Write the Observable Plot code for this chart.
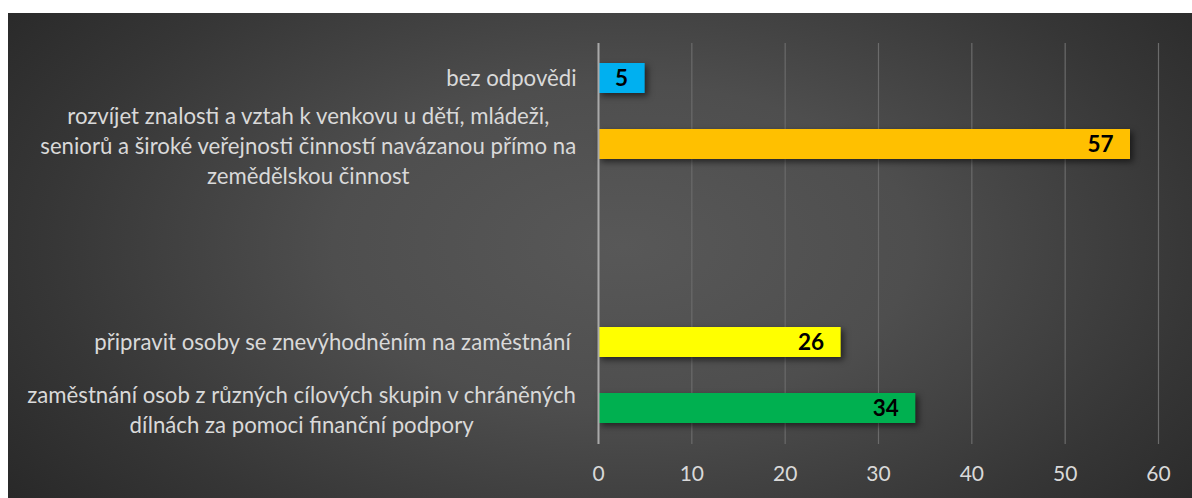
<!DOCTYPE html>
<html><head><meta charset="utf-8">
<script src="https://cdn.jsdelivr.net/npm/d3@7"></script>
<script src="https://cdn.jsdelivr.net/npm/@observablehq/plot@0.6"></script>
<style>
html,body{margin:0;padding:0;background:#fff;}
#panel{position:absolute;left:8px;top:13px;width:1184px;height:485px;
  background:radial-gradient(ellipse 70% 95% at 52% 48%, #585858 0%, #4e4e4e 35%, #363636 70%, #242424 100%);}
svg text{white-space:pre;}
</style></head><body><div id="panel"></div>
<script>
const categories = [
  "bez odpovědi",
  "rozvíjet znalosti a vztah k venkovu u dětí, mládeži,\nseniorů a široké veřejnosti činností navázanou přímo na\nzemědělskou činnost",
  " ",
  "  ",
  "připravit osoby se znevýhodněním na zaměstnání ",
  "zaměstnání osob z různých cílových skupin v chráněných\ndílnách za pomoci finanční podpory"
];
const values = [5, 57, null, null, 26, 34];
const barColors = ["#00B0F0", "#FFC000", null, null, "#FFFF00", "#00B050"];
const xTicks = [0, 10, 20, 30, 40, 50, 60];

const rows = categories.map((c, i) => ({cat: c, value: values[i], color: barColors[i]}))
  .filter(d => d.value != null);

const FONT = "Lato";
const LABEL_SIZE = 22.2;
const GAP = 22;
const ctx = document.createElement("canvas").getContext("2d");
ctx.font = `${LABEL_SIZE}px ${FONT}`;
const lineW = s => ctx.measureText(s).width;

const labelMarks = [];
const singles = categories.filter(c => c.trim() && !c.includes("\n"));
labelMarks.push(Plot.text(singles, {x: 0, y: d => d, text: d => d, textAnchor: "end", dx: -GAP,
  fill: "#d9d9d9", fontSize: LABEL_SIZE}));
categories.filter(c => c.includes("\n")).forEach(c => {
  const w = d3.max(c.split("\n"), lineW);
  labelMarks.push(Plot.text([c], {x: 0, y: d => d, text: d => d, textAnchor: "middle",
    dx: -(GAP + w / 2), lineHeight: 1.35, fill: "#d9d9d9", fontSize: LABEL_SIZE}));
});

const chart = Plot.plot({
  width: 1184, height: 485,
  marginLeft: 590, marginRight: 34, marginTop: 30, marginBottom: 54,
  style: {background: "transparent", fontFamily: FONT, fontSize: "21px", color: "#d9d9d9"},
  x: {domain: [0, 60], axis: null, label: null},
  y: {domain: categories, axis: null, label: null, paddingInner: 0.54, paddingOuter: 0.27},
  marks: [
    Plot.gridX(xTicks, {stroke: "#6b6b6b", strokeOpacity: 1, strokeWidth: 1.2}),
    Plot.barX(rows, {x: "value", y: "cat", fill: "color"}),
    Plot.ruleX([0], {stroke: "#a9a9a9", strokeWidth: 2}),
    Plot.text(rows, {x: "value", y: "cat", text: d => String(d.value), textAnchor: "end", dx: -17,
      fill: "#000", fontWeight: "bold", fontSize: 22.5}),
    Plot.axisX(xTicks, {tickSize: 0, tickPadding: 22, fontSize: 21, label: null, tickFormat: d => String(d), fill: "#d9d9d9"}),
    ...labelMarks
  ]
});
d3.select(chart).selectAll('g[aria-label="bar"]').style("filter", "drop-shadow(3px 3px 3px rgba(0,0,0,0.55))");
document.getElementById("panel").appendChild(chart);
</script>
</body></html>
